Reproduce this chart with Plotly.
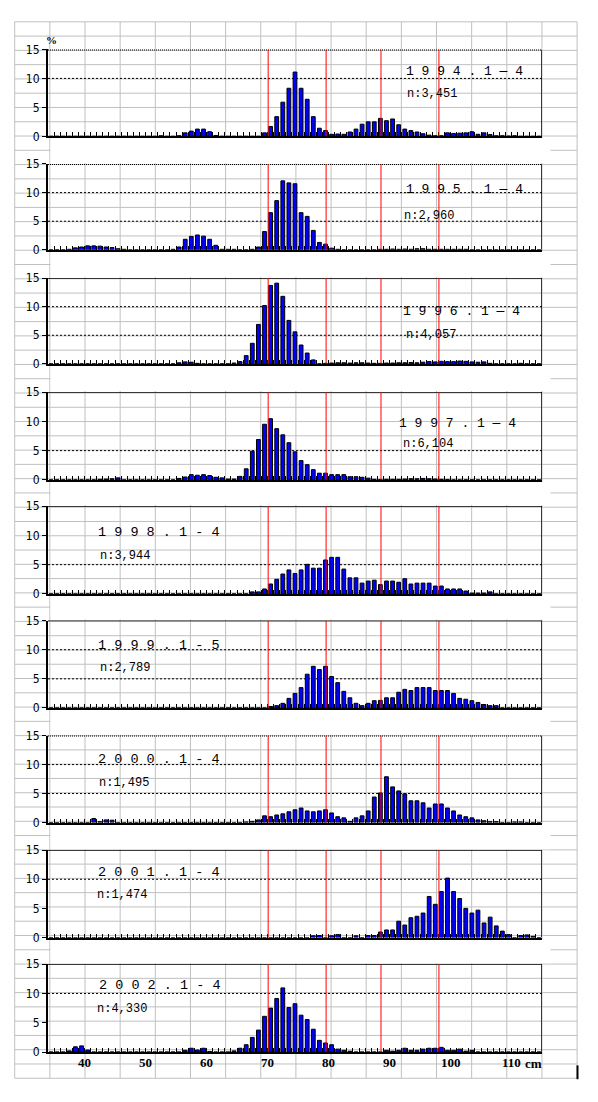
import plotly.graph_objects as go

# ---------------- data ----------------
bins = list(range(35, 116))  # body length classes (cm), 1 cm bins

periods = ["1994. 1-4", "1995. 1-4", "1996. 1-4", "1997. 1-4", "1998. 1-4",
           "1999. 1-5", "2000. 1-4", "2001. 1-4", "2002. 1-4"]
n_labels = ["n:3,451", "n:2,960", "n:4,057", "n:6,104", "n:3,944",
            "n:2,789", "n:1,495", "n:1,474", "n:4,330"]

v1994 = [0, 0, 0, 0, 0, 0, 0, 0, 0, 0,
         0, 0, 0, 0, 0, 0, 0, 0, 0.1, 0,
         0, 0.1, 0.6, 0.9, 1.25, 1.25, 0.8, 0.15, 0, 0,
         0, 0, 0, 0, 0, 0.6, 1.7, 3.4, 5.9, 8.3,
         11.1, 8.3, 6.4, 3.4, 1.4, 1.0, 0.35, 0.4, 0.35, 0.75,
         1.25, 2.1, 2.5, 2.5, 3.1, 2.7, 3.0, 2.0, 1.25, 1.0,
         0.75, 0.45, 0.2, 0.1, 0.1, 0.6, 0.5, 0.55, 0.6, 0.8,
         0.35, 0.6, 0.3, 0.1, 0.1, 0.05, 0.1, 0, 0, 0,
         0]
v1995 = [0, 0, 0, 0.1, 0.35, 0.5, 0.7, 0.7, 0.65, 0.5,
         0.4, 0.2, 0.1, 0, 0, 0, 0, 0, 0, 0,
         0.1, 0.5, 1.85, 2.35, 2.6, 2.4, 1.85, 0.8, 0.1, 0.1,
         0.1, 0, 0, 0.1, 0.5, 3.2, 6.5, 8.6, 12.05, 11.7,
         11.55, 6.5, 5.85, 3.4, 1.3, 1.0, 0.3, 0.1, 0, 0,
         0, 0, 0, 0, 0.1, 0.1, 0.15, 0.1, 0.15, 0.1,
         0.2, 0.2, 0.1, 0.1, 0.1, 0.1, 0.1, 0.1, 0.1, 0,
         0, 0, 0, 0, 0, 0, 0, 0, 0, 0,
         0]
v1996 = [0, 0, 0, 0, 0, 0, 0, 0, 0, 0,
         0, 0, 0, 0, 0, 0, 0, 0, 0, 0,
         0, 0.2, 0.35, 0.3, 0.1, 0, 0, 0, 0, 0,
         0.15, 0.4, 1.45, 3.6, 6.9, 10.2, 13.7, 14.1, 11.8, 7.6,
         5.6, 3.3, 1.9, 0.7, 0, 0.1, 0.15, 0.2, 0.2, 0.15,
         0.2, 0.2, 0.15, 0.1, 0.1, 0.15, 0.15, 0.2, 0.2, 0.25,
         0.2, 0.3, 0.4, 0.35, 0.45, 0.4, 0.4, 0.5, 0.45, 0.35,
         0.3, 0.35, 0.1, 0, 0, 0, 0, 0.1, 0, 0,
         0]
v1997 = [0, 0, 0, 0, 0, 0, 0, 0, 0.1, 0.15,
         0.2, 0.35, 0, 0, 0, 0, 0, 0, 0, 0,
         0, 0.25, 0.5, 0.9, 0.8, 0.9, 0.75, 0.45, 0.35, 0.15,
         0.15, 0.6, 1.9, 4.9, 6.9, 9.5, 10.45, 8.75, 7.7, 6.35,
         4.8, 3.3, 2.6, 1.75, 1.15, 1.15, 0.9, 0.9, 0.9, 0.55,
         0.55, 0.45, 0.3, 0.1, 0.05, 0.1, 0.1, 0.1, 0.15, 0.2,
         0.2, 0.25, 0.2, 0.15, 0.1, 0.05, 0, 0, 0, 0,
         0, 0, 0, 0, 0, 0, 0, 0, 0, 0,
         0]
v1998 = [0, 0, 0, 0, 0, 0, 0, 0, 0, 0,
         0, 0, 0, 0, 0, 0, 0, 0, 0, 0,
         0, 0, 0, 0, 0, 0, 0, 0, 0, 0,
         0, 0, 0, 0.35, 0.35, 0.85, 1.7, 2.5, 3.4, 4.1,
         3.5, 4.1, 5.05, 4.4, 4.4, 5.8, 6.25, 6.25, 4.25, 2.75,
         2.75, 1.85, 2.2, 2.35, 1.6, 2.2, 2.2, 2.0, 2.6, 1.7,
         1.85, 1.85, 1.85, 1.35, 1.35, 0.85, 0.85, 0.85, 0.5, 0.15,
         0.15, 0.15, 0.35, 0, 0, 0, 0, 0, 0, 0,
         0]
v1999 = [0, 0, 0, 0, 0, 0, 0, 0, 0, 0,
         0, 0, 0, 0, 0, 0, 0, 0, 0, 0,
         0, 0, 0, 0, 0, 0, 0, 0, 0, 0,
         0, 0, 0, 0, 0, 0, 0.25, 0.4, 0.8, 1.65,
         2.5, 3.5, 5.8, 7.15, 6.6, 7.15, 5.4, 4.35, 2.85, 1.75,
         0.8, 0.4, 0.8, 1.25, 1.3, 1.75, 1.75, 2.7, 3.2, 3.0,
         3.5, 3.5, 3.5, 3.0, 3.0, 3.0, 2.5, 1.65, 1.5, 1.25,
         0.95, 0.6, 0.4, 0.4, 0, 0, 0, 0, 0, 0,
         0]
v2000 = [0, 0, 0, 0, 0, 0, 0, 0.7, 0.15, 0.45,
         0.4, 0, 0, 0, 0, 0, 0, 0, 0, 0,
         0, 0, 0, 0, 0, 0, 0, 0, 0, 0,
         0, 0, 0.1, 0.2, 0.45, 1.15, 1.0, 1.3, 1.5, 1.85,
         2.2, 2.5, 2.0, 1.85, 2.0, 2.2, 1.65, 1.0, 0.8, 0.2,
         0.8, 1.15, 2.0, 4.4, 5.1, 7.9, 6.15, 5.45, 4.95, 3.75,
         3.75, 3.4, 2.5, 3.2, 3.2, 2.5, 2.0, 1.3, 1.0, 0.8,
         0.45, 0.3, 0.15, 0.15, 0, 0, 0.1, 0.1, 0, 0,
         0]
v2001 = [0, 0, 0, 0, 0, 0, 0, 0, 0, 0,
         0, 0, 0, 0, 0, 0, 0, 0, 0, 0,
         0, 0, 0, 0, 0, 0, 0, 0, 0, 0,
         0, 0, 0, 0, 0, 0, 0, 0, 0, 0,
         0, 0, 0, 0.3, 0.35, 0, 0.3, 0.5, 0, 0,
         0.3, 0, 0.35, 0.35, 0.95, 1.3, 1.3, 2.8, 2.15, 3.4,
         3.65, 4.2, 7.05, 5.7, 7.9, 10.2, 7.9, 6.7, 5.0, 4.2,
         4.7, 2.5, 3.5, 2.0, 1.1, 0.5, 0, 0.35, 0.45, 0.2,
         0]
v2002 = [0, 0, 0, 0.2, 0.9, 1.05, 0.35, 0, 0, 0,
         0, 0, 0, 0, 0, 0, 0, 0, 0, 0,
         0, 0, 0.3, 0.65, 0.35, 0.65, 0.1, 0, 0, 0,
         0.2, 0.65, 1.25, 2.5, 3.75, 6.1, 7.5, 9.15, 10.95, 7.6,
         8.25, 6.3, 5.55, 3.9, 2.0, 1.55, 1.25, 0.5, 0.3, 0.15,
         0, 0, 0, 0, 0, 0.3, 0.15, 0.3, 0.65, 0.3,
         0.3, 0.5, 0.65, 0.65, 0.8, 0.3, 0.3, 0.5, 0.15, 0.3,
         0, 0, 0, 0, 0, 0, 0, 0, 0, 0,
         0]

series = [v1994, v1995, v1996, v1997, v1998, v1999, v2000, v2001, v2002]

y_ticks = [0, 5, 10, 15]
x_tick_labels = [40, 50, 60, 70, 80, 90, 100, 110]
ref_lines = [70.6, 80.1, 89.1, 98.6]   # red reference lines (cm)

# dotted horizontal gridlines visible in each panel
grid_levels = [[10], [10, 5], [10, 5], [5], [5], [10, 5], [10, 5], [10], [10]]
top_dotted = [True, True, False, False, False, False, True, False, False]

# ---------------- layout geometry (pixels) ----------------
W, H = 598, 1102
PL, PR = 48, 542
tops = [43, 159, 274.5, 390, 505.5, 621.5, 738, 854, 969.5]
bottoms = [131, 246, 361.5, 479, 594.5, 710, 826, 942.5, 1058.5]
label_xy = [(404, 65), (404, 185), (401, 308.5), (397, 421.5), (96, 532),
            (96, 647), (96, 762.5), (96, 877), (97, 991.5)]
n_xy = [(405, 88), (402, 212), (404, 332.5), (401, 442.5), (98, 556),
        (98, 669), (97, 786), (95, 899.5), (95, 1015)]

XMIN, XMAX = bins[0] - 0.5, bins[-1] + 0.5


def fx(p):
    return p / W


def fy(p):
    return 1 - p / H


fig = go.Figure()
shapes = []
annotations = []

# spreadsheet background grid
GRID = "#c0c0c0"
for i in range(17):
    x = 14.7 + i * 35.15
    shapes.append(dict(type="line", xref="paper", yref="paper", x0=fx(x), x1=fx(x),
                       y0=fy(15), y1=fy(1085), line=dict(color=GRID, width=1), layer="below"))
for j in range(75):
    y = 15 + j * 14.46
    shapes.append(dict(type="line", xref="paper", yref="paper", x0=fx(14.7), x1=fx(577),
                       y0=fy(y), y1=fy(y), line=dict(color=GRID, width=1), layer="below"))
# white strips between the chart panels
for i in range(8):
    shapes.append(dict(type="rect", xref="paper", yref="paper", x0=fx(50.5), x1=fx(550.5),
                       y0=fy(tops[i + 1] - 1), y1=fy(bottoms[i] + 1.5),
                       fillcolor="white", line=dict(width=0), layer="below"))

for i, vals in enumerate(series):
    n = "" if i == 0 else str(i + 1)
    xa, ya = "x" + n, "y" + n
    fig.add_trace(go.Bar(x=bins, y=vals, xaxis=xa, yaxis=ya, width=0.62,
                         marker=dict(color="#0000FF", line=dict(color="black", width=1)),
                         showlegend=False, hoverinfo="x+y"))
    fig.update_layout(**{
        "xaxis" + n: dict(domain=[fx(PL), fx(PR)], range=[XMIN, XMAX], anchor=ya,
                          showgrid=False, zeroline=False, showline=True,
                          linecolor="black", linewidth=2,
                          ticks="inside", ticklen=4, tickwidth=1, tickcolor="black",
                          tickmode="array", tickvals=[b + 0.5 for b in bins[:-1]],
                          showticklabels=False, fixedrange=True),
        "yaxis" + n: dict(domain=[fy(bottoms[i]), fy(tops[i])], range=[0, 15], anchor=xa,
                          showgrid=False, zeroline=False, showline=True,
                          linecolor="black", linewidth=2,
                          ticks="outside", ticklen=4, tickcolor="black",
                          tickmode="array", tickvals=y_ticks,
                          tickfont=dict(family="Liberation Sans Narrow, DejaVu Sans Condensed, Arial Narrow, sans-serif",
                                        size=12, color="black"),
                          fixedrange=True),
    })
    # dotted gridlines
    for lv in grid_levels[i]:
        shapes.append(dict(type="line", xref=xa, yref=ya, x0=XMIN, x1=XMAX, y0=lv, y1=lv,
                           line=dict(color="black", width=1, dash="2px,2px"), layer="below"))
    # top and right frame
    shapes.append(dict(type="line", xref=xa, yref=ya, x0=XMIN, x1=XMAX, y0=15, y1=15,
                       line=dict(color="black", width=2 if top_dotted[i] else 1.5,
                                 dash="1px,1px" if top_dotted[i] else "solid"), layer="above"))
    shapes.append(dict(type="line", xref=xa, yref=ya, x0=XMAX, x1=XMAX, y0=0, y1=15,
                       line=dict(color="black", width=1.5), layer="above"))
    # red reference lines
    for r in ref_lines:
        shapes.append(dict(type="line", xref=xa, yref=ya, x0=r, x1=r, y0=0, y1=15,
                           line=dict(color="red", width=1), layer="above"))
    # texts
    lx, ly = label_xy[i]
    dash = "\u2014" if i < 4 else "-"
    p = periods[i]
    yr, mo = p.split(". ")
    m1, m2 = mo.split("-")
    txt = " ".join(list(yr)) + " . " + m1 + " " + dash + " " + m2
    annotations.append(dict(xref="paper", yref="paper", x=fx(lx), y=fy(ly), text=txt,
                            showarrow=False, xanchor="left", yanchor="middle",
                            font=dict(family="Liberation Mono, DejaVu Sans Mono, monospace",
                                      size=13.5 if i >= 4 else 13, color="black")))
    nx, ny = n_xy[i]
    annotations.append(dict(xref="paper", yref="paper", x=fx(nx), y=fy(ny), text=n_labels[i],
                            showarrow=False, xanchor="left", yanchor="middle",
                            font=dict(family="Liberation Mono, DejaVu Sans Mono, monospace",
                                      size=12, color="black")))

# x-axis labels of the last panel
for v in x_tick_labels:
    annotations.append(dict(xref="x9", yref="paper", x=v + 0.5, y=fy(1069.5), text=str(v),
                            showarrow=False, xanchor="center", yanchor="middle",
                            font=dict(family="Liberation Serif, Times New Roman, serif",
                                      size=13, color="black", weight="bold")))
annotations.append(dict(xref="paper", yref="paper", x=fx(523), y=fy(1070), text="cm",
                        showarrow=False, xanchor="left", yanchor="middle",
                        font=dict(family="Liberation Serif, Times New Roman, serif",
                                  size=13, color="black", weight="bold")))
annotations.append(dict(xref="paper", yref="paper", x=fx(51), y=fy(33), text="%",
                        showarrow=False, xanchor="center", yanchor="middle",
                        font=dict(family="Liberation Serif, Times New Roman, serif",
                                  size=11, color="black", weight="bold")))
shapes.append(dict(type="line", xref="paper", yref="paper", x0=fx(577.5), x1=fx(577.5),
                   y0=fy(1072), y1=fy(1086), line=dict(color="black", width=2)))

fig.update_layout(width=W, height=H, margin=dict(l=0, r=0, t=0, b=0),
                  paper_bgcolor="white", plot_bgcolor="rgba(0,0,0,0)",
                  bargap=0.38, shapes=shapes, annotations=annotations, showlegend=False)

fig.write_html("out.html")
